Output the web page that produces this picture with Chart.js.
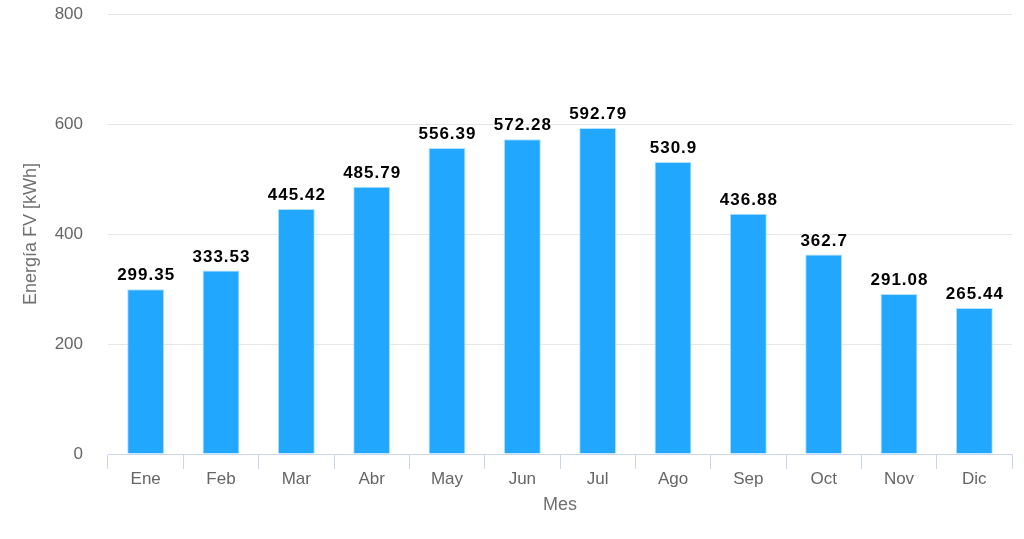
<!DOCTYPE html>
<html>
<head>
<meta charset="utf-8">
<script src="https://cdn.jsdelivr.net/npm/chart.js@4/dist/chart.umd.min.js"></script>
<style>
html,body{margin:0;padding:0;background:#fff;}
#wrap{width:1024px;height:539px;position:relative;}
</style>
</head>
<body>
<div id="wrap"><canvas id="c" width="1024" height="539"></canvas></div>
<script>
const categories = ["Ene","Feb","Mar","Abr","May","Jun","Jul","Ago","Sep","Oct","Nov","Dic"];
const energyValues = [299.35,333.53,445.42,485.79,556.39,572.28,592.79,530.9,436.88,362.7,291.08,265.44];
const yTicks = [0,200,400,600,800];
const xTitle = "Mes";
const yTitle = "Energía FV [kWh]";

const FONT = "'Liberation Sans', Arial, Helvetica, sans-serif";

const dataLabels = {
  id: 'dataLabels',
  afterDatasetsDraw(chart) {
    const ctx = chart.ctx;
    const meta = chart.getDatasetMeta(0);
    ctx.save();
    ctx.font = "bold 17px " + FONT;
    try { ctx.letterSpacing = '1px'; } catch(e) {}
    ctx.textAlign = 'center';
    ctx.textBaseline = 'alphabetic';
    meta.data.forEach((bar, i) => {
      const txt = String(chart.data.datasets[0].data[i]);
      ctx.lineWidth = 2;
      ctx.strokeStyle = '#ffffff';
      ctx.lineJoin = 'round';
      ctx.strokeText(txt, bar.x + 0.5, bar.y - 9);
      ctx.fillStyle = '#000000';
      ctx.fillText(txt, bar.x + 0.5, bar.y - 9);
    });
    ctx.restore();
  }
};

new Chart(document.getElementById('c'), {
  type: 'bar',
  data: {
    labels: categories,
    datasets: [{
      data: energyValues,
      backgroundColor: 'rgb(34,167,255)',
      borderColor: 'rgba(180,225,255,1)',
      borderWidth: 1,
      barPercentage: 0.49,
      categoryPercentage: 1
    }]
  },
  options: {
    responsive: false,
    animation: false,
    devicePixelRatio: 1,
    layout: { padding: { top: 14, right: 12, left: 0, bottom: 0 } },
    plugins: { legend: { display: false }, tooltip: { enabled: false } },
    scales: {
      x: {
        offset: true,
        grid: { offset: true, drawOnChartArea: false, drawTicks: true, tickLength: 15, color: '#ccd6eb', lineWidth: 1 },
        border: { display: true, color: '#ccd6eb', width: 1 },
        ticks: { color: '#666666', font: { family: FONT, size: 17 }, padding: 0, maxRotation: 0 },
        title: { display: true, text: xTitle, color: '#707070', font: { family: FONT, size: 18 }, padding: { top: 0, bottom: 23 } },
        afterFit(scale) { scale.height = 85; scale.paddingLeft = 0; scale.paddingRight = 0; }
      },
      y: {
        min: 0, max: 800,
        afterBuildTicks(scale) { scale.ticks = yTicks.map(v => ({ value: v })); },
        grid: { color: '#e6e6e6', drawTicks: false, lineWidth: 1 },
        border: { display: false },
        ticks: { color: '#666666', font: { family: FONT, size: 17 }, padding: 25 },
        title: { display: true, text: yTitle, color: '#707070', font: { family: FONT, size: 18 }, padding: { top: 20, bottom: 0 } },
        afterFit(scale) { scale.width = 108; scale.paddingTop = 0; scale.paddingBottom = 0; }
      }
    }
  },
  plugins: [dataLabels]
});
</script>
</body>
</html>
